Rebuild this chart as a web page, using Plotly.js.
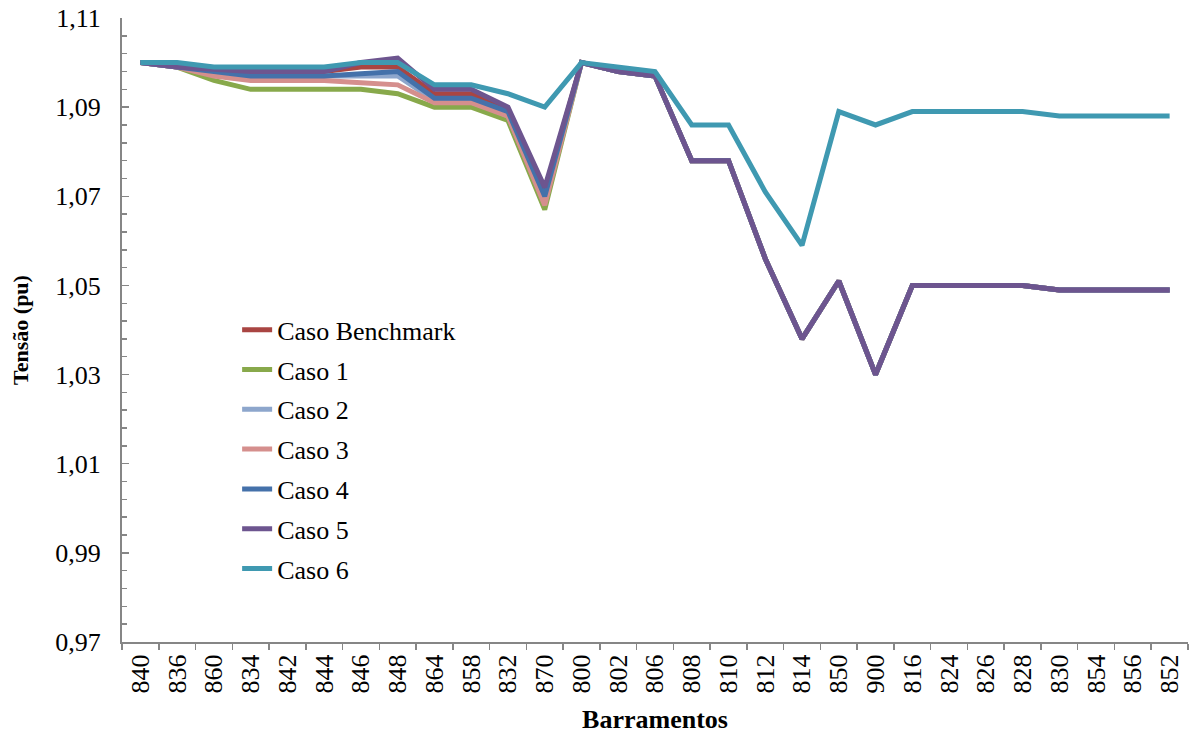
<!DOCTYPE html>
<html>
<head>
<meta charset="utf-8">
<script src="https://cdn.plot.ly/plotly-3.0.1.min.js"></script>
<style>html,body{margin:0;padding:0;background:#fff;}#chart{width:1192px;height:734px;}</style>
</head>
<body>
<div id="chart"></div>
<script>
const barramentos = ["840","836","860","834","842","844","846","848","864","858","832","870","800","802","806","808","810","812","814","850","900","816","824","826","828","830","854","856","852"];

const casoBenchmark = [1.100,1.099,1.098,1.098,1.098,1.098,1.099,1.099,1.093,1.093,1.089,1.071,1.100,1.098,1.097,1.078,1.078,1.056,1.038,1.051,1.030,1.050,1.050,1.050,1.050,1.049,1.049,1.049,1.049];
const caso1 = [1.100,1.099,1.096,1.094,1.094,1.094,1.094,1.093,1.090,1.090,1.087,1.067,1.100,1.098,1.097,1.078,1.078,1.056,1.038,1.051,1.030,1.050,1.050,1.050,1.050,1.049,1.049,1.049,1.049];
const caso2 = [1.100,1.099,1.098,1.097,1.097,1.097,1.097,1.097,1.0915,1.0915,1.088,1.069,1.100,1.098,1.097,1.078,1.078,1.056,1.038,1.051,1.030,1.050,1.050,1.050,1.050,1.049,1.049,1.049,1.049];
const caso3 = [1.100,1.099,1.097,1.096,1.096,1.096,1.0955,1.095,1.091,1.091,1.088,1.068,1.100,1.098,1.097,1.078,1.078,1.056,1.038,1.051,1.030,1.050,1.050,1.050,1.050,1.049,1.049,1.049,1.049];
const caso4 = [1.100,1.099,1.098,1.097,1.097,1.097,1.0975,1.098,1.092,1.092,1.089,1.070,1.100,1.098,1.097,1.078,1.078,1.056,1.038,1.051,1.030,1.050,1.050,1.050,1.050,1.049,1.049,1.049,1.049];
const caso5 = [1.100,1.099,1.0985,1.098,1.098,1.098,1.100,1.101,1.094,1.094,1.090,1.072,1.100,1.098,1.097,1.078,1.078,1.056,1.038,1.051,1.030,1.050,1.050,1.050,1.050,1.049,1.049,1.049,1.049];
const caso6 = [1.100,1.100,1.099,1.099,1.099,1.099,1.100,1.100,1.095,1.095,1.093,1.090,1.100,1.099,1.098,1.086,1.086,1.071,1.059,1.089,1.086,1.089,1.089,1.089,1.089,1.088,1.088,1.088,1.088];

const seriesNames = ["Caso Benchmark","Caso 1","Caso 2","Caso 3","Caso 4","Caso 5","Caso 6"];
const seriesValues = [casoBenchmark, caso1, caso2, caso3, caso4, caso5, caso6];
const seriesColors = ["#A94542","#88A94B","#8DA6CC","#D58F8D","#4471AA","#6D558F","#3F99B1"];

const yTicks = [0.97,0.99,1.01,1.03,1.05,1.07,1.09,1.11];
const yTickText = ["0,97","0,99","1,01","1,03","1,05","1,07","1,09","1,11"];

const FONT = "Times New Roman";

const traces = seriesNames.map((name, i) => ({
  type: "scatter",
  mode: "lines",
  name: name,
  x: barramentos,
  y: seriesValues[i],
  line: {color: seriesColors[i], width: 5},
  legendgroup: "g" + i,
  hoverinfo: "x+y+name"
}));

const layout = {
  width: 1192,
  height: 734,
  paper_bgcolor: "#ffffff",
  plot_bgcolor: "#ffffff",
  margin: {l: 122, r: 4, t: 18, b: 92},
  font: {family: FONT, size: 26, color: "#000"},
  showlegend: true,
  legend: {
    x: 0.108, y: 0.538, xanchor: "left", yanchor: "top",
    bgcolor: "rgba(0,0,0,0)",
    font: {family: FONT, size: 26, color: "#000"},
    tracegroupgap: 3,
    traceorder: "grouped"
  },
  xaxis: {
    type: "category",
    categoryorder: "array",
    categoryarray: barramentos,
    range: [-0.5, barramentos.length - 0.5],
    tickangle: -90,
    tickson: "boundaries",
    ticks: "outside",
    ticklen: 6,
    tickcolor: "#868686",
    tickwidth: 1.5,
    showline: true,
    linecolor: "#868686",
    linewidth: 2,
    showgrid: false,
    zeroline: false,
    tickfont: {family: FONT, size: 26, color: "#000"},
    title: {text: "<b>Barramentos</b>", font: {family: FONT, size: 26, color: "#000"}, standoff: 19}
  },
  yaxis: {
    range: [0.97, 1.11],
    tickmode: "array",
    tickvals: yTicks,
    ticktext: yTickText,
    ticks: "inside",
    ticklen: 7,
    tickcolor: "#868686",
    tickwidth: 1.5,
    minor: {tick0: 0.97, dtick: 0.004, ticks: "inside", ticklen: 5, tickcolor: "#868686", tickwidth: 1.5, showgrid: false},
    showline: true,
    linecolor: "#868686",
    linewidth: 2,
    showgrid: false,
    zeroline: false,
    ticklabelstandoff: 14,
    tickfont: {family: FONT, size: 26, color: "#000"},
    title: {text: "<b>Tensão (pu)</b>", font: {family: FONT, size: 22, color: "#000"}, standoff: 21}
  }
};

Plotly.newPlot("chart", traces, layout, {displayModeBar: false, staticPlot: true});
</script>
</body>
</html>
